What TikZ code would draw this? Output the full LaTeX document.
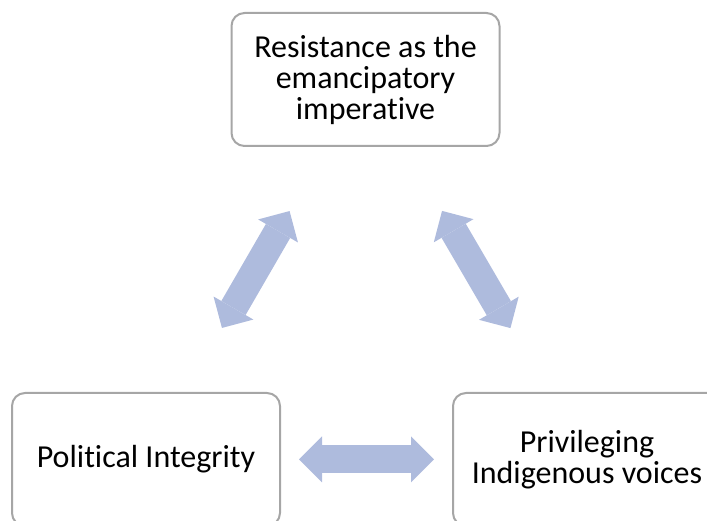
\documentclass[tikz,border=0pt]{standalone}
\usepackage{fontspec}
\setmainfont{Carlito}[Ligatures=NoCommon]
\usetikzlibrary{arrows.meta}
\definecolor{boxline}{RGB}{166,166,166}
\definecolor{arrowblue}{RGB}{174,187,221}

\begin{document}
\begin{tikzpicture}[x=1pt, y=1pt,
    theme/.style={draw=boxline, line width=2pt, fill=white, rounded corners=13pt,
        minimum width=268pt, minimum height=133pt, align=center,
        font=\fontsize{32}{31}\selectfont},
    link/.style={draw=arrowblue, line width=28pt,
        {Triangle[width=46pt, length=23pt, line width=0pt]}-{Triangle[width=46pt, length=23pt, line width=0pt]}}]

    \useasboundingbox (0,0) rectangle (707,521);
    \clip (0,0) rectangle (707,521);

    \draw(365.5,441.5) node[theme] (resist) {Resistance as the\\ emancipatory\\ imperative};
    \draw(146,61.5) node[theme] (integrity) {Political Integrity};
    \draw(587,61.5) node[theme] (voices) {Privileging\\ Indigenous voices};

    \draw[link, shorten <=74pt, shorten >=74pt] (resist) to (integrity);
    \draw[link, shorten <=74pt, shorten >=74pt] (resist) to (voices);
    \draw[link, shorten <=18pt, shorten >=18pt] (integrity) to (voices);

\end{tikzpicture}
\end{document}
